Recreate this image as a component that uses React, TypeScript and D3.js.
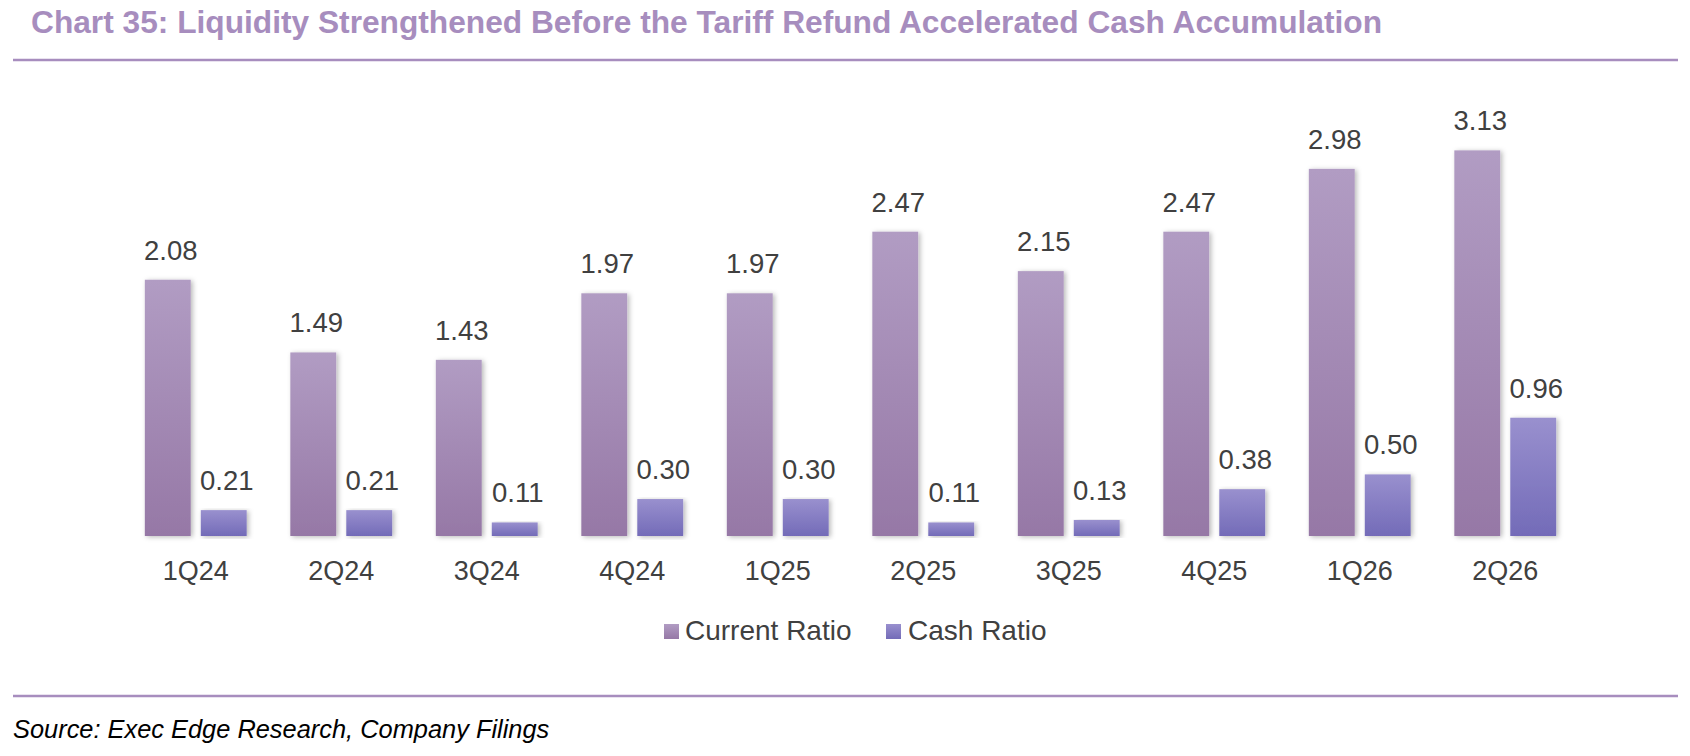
import React from 'react';
import * as d3 from 'd3';

// chart data
const quarters = ['1Q24', '2Q24', '3Q24', '4Q24', '1Q25', '2Q25', '3Q25', '4Q25', '1Q26', '2Q26'];
const currentRatio = [2.08, 1.49, 1.43, 1.97, 1.97, 2.47, 2.15, 2.47, 2.98, 3.13];
const cashRatio = [0.21, 0.21, 0.11, 0.30, 0.30, 0.11, 0.13, 0.38, 0.50, 0.96];
const seriesNames = ['Current Ratio', 'Cash Ratio'];

const W = 1690;
const H = 756;
const baseY = 536;
const textColor = '#404040';
const accent = '#A78DBE';
const font = 'Arial, "Liberation Sans", Helvetica, sans-serif';

export default function App() {
  const x0 = d3.scaleBand<string>()
    .domain(quarters)
    .range([123, 1578])
    .paddingInner(0.3)
    .paddingOuter(0.15);

  const x1 = d3.scaleBand<string>()
    .domain(seriesNames)
    .range([0, x0.bandwidth()])
    .paddingInner(0.18);

  const y = d3.scaleLinear()
    .domain([0, 3.5])
    .range([baseY, baseY - 3.5 * 123.2]);

  const series = [
    { name: seriesNames[0], values: currentRatio, fill: 'url(#gradCurrent)' },
    { name: seriesNames[1], values: cashRatio, fill: 'url(#gradCash)' },
  ];

  return (
    <div style={{ position: 'absolute', left: 0, top: 0 }}>
      <svg width={W} height={H} style={{ display: 'block', background: '#fff' }} fontFamily={font}>
        <defs>
          <linearGradient id="gradCurrent" x1="0" y1="0" x2="0" y2="1">
            <stop offset="0%" stopColor="#B19CC3" />
            <stop offset="100%" stopColor="#9678A6" />
          </linearGradient>
          <linearGradient id="gradCash" x1="0" y1="0" x2="0" y2="1">
            <stop offset="0%" stopColor="#9990CE" />
            <stop offset="100%" stopColor="#736BB8" />
          </linearGradient>
          <filter id="shadow" x="-20%" y="-5%" width="140%" height="115%">
            <feDropShadow dx="2" dy="1" stdDeviation="2.5" floodColor="#000" floodOpacity="0.28" />
          </filter>
        </defs>

        {/* title */}
        <text x={31} y={33} fill={accent} fontSize={31.7} fontWeight="bold">
          Chart 35: Liquidity Strengthened Before the Tariff Refund Accelerated Cash Accumulation
        </text>
        <line x1={13} x2={1678} y1={60} y2={60} stroke={accent} strokeWidth={2.5} />

        {/* baseline */}
        <line x1={x0.range()[0]} x2={x0.range()[1]} y1={baseY + 1} y2={baseY + 1}
          stroke="#D9D9D9" strokeWidth={2.5} filter="url(#shadow)" />

        {/* bars */}
        {quarters.map(q => (
          <g key={q} transform={`translate(${x0(q)},0)`}>
            {series.map(s => {
              const v = s.values[quarters.indexOf(q)];
              const bx = x1(s.name)!;
              return (
                <g key={s.name}>
                  <rect x={bx} y={y(v)} width={x1.bandwidth()} height={baseY - y(v)}
                    fill={s.fill} filter="url(#shadow)" />
                  <text x={bx + x1.bandwidth() / 2 + 3} y={y(v) - 20} textAnchor="middle"
                    fill={textColor} fontSize={27.5}>
                    {v.toFixed(2)}
                  </text>
                </g>
              );
            })}
            <text x={x0.bandwidth() / 2} y={baseY + 44} textAnchor="middle" fill={textColor} fontSize={27}>
              {q}
            </text>
          </g>
        ))}

        {/* legend */}
        <rect x={664} y={624} width={15} height={15} fill="url(#gradCurrent)" />
        <text x={685} y={640} fill={textColor} fontSize={28}>{seriesNames[0]}</text>
        <rect x={886} y={624} width={15} height={15} fill="url(#gradCash)" />
        <text x={908} y={640} fill={textColor} fontSize={28}>{seriesNames[1]}</text>

        {/* footer */}
        <line x1={13} x2={1678} y1={696} y2={696} stroke={accent} strokeWidth={2.5} />
        <text x={13} y={738} fill="#000" fontSize={25.4} fontStyle="italic">
          Source: Exec Edge Research, Company Filings
        </text>
      </svg>
    </div>
  );
}
